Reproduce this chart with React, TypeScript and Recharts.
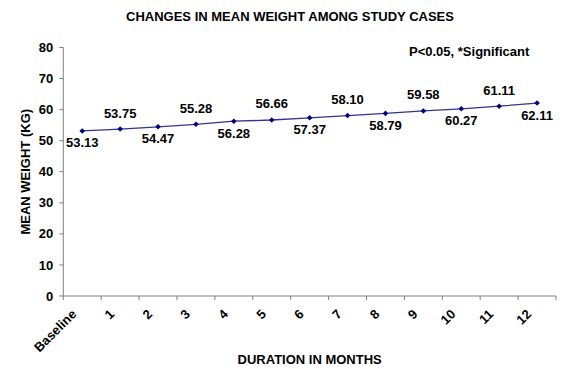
import { LineChart, Line, XAxis, YAxis, LabelList, Label } from 'recharts';

const months = ['Baseline', '1', '2', '3', '4', '5', '6', '7', '8', '9', '10', '11', '12'];
const meanWeight = [53.13, 53.75, 54.47, 55.28, 56.28, 56.66, 57.37, 58.1, 58.79, 59.58, 60.27, 61.11, 62.11];
const yTicks = [0, 10, 20, 30, 40, 50, 60, 70, 80];

const FONT = '"Liberation Sans", Arial, sans-serif';
const NAVY = '#000080';

// each month sits in the middle of its band, ticks go on the band edges
const data = months.map((m, i) => ({ pos: i + 0.5, month: m, weight: meanWeight[i] }));
const edgeTicks = months.map((_, i) => i).concat(months.length);
const midTicks = months.map((_, i) => i + 0.5);
const xTicks = [...edgeTicks, ...midTicks].sort((a, b) => a - b);

function MonthTick(props: any) {
  const { x, y, payload } = props;
  const v = payload.value;
  if (Number.isInteger(v)) {
    return <line x1={x} y1={y} x2={x} y2={y + 4} stroke="#808080" strokeWidth={1} />;
  }
  const label = months[Math.floor(v)];
  const tx = x - 5;
  const ty = y + 19;
  return (
    <text
      x={tx}
      y={ty}
      transform={`rotate(-45, ${tx}, ${ty})`}
      textAnchor="end"
      fontFamily={FONT}
      fontWeight="bold"
      fontSize={13}
      fill="#000"
    >
      {label}
    </text>
  );
}

function Diamond(props: any) {
  const { cx, cy } = props;
  if (cx == null || cy == null) return null;
  const r = 2.8;
  return <path d={`M${cx},${cy - r}L${cx + r},${cy}L${cx},${cy + r}L${cx - r},${cy}Z`} fill={NAVY} />;
}

function ValueLabel(props: any) {
  const { x, y, value, index } = props;
  // alternate the labels below / above the line
  const below = index % 2 === 0;
  return (
    <text
      x={x}
      y={below ? y + 12 : y - 16}
      textAnchor="middle"
      dominantBaseline="central"
      fontFamily={FONT}
      fontWeight="bold"
      fontSize={13}
      fill="#000"
    >
      {Number(value).toFixed(2)}
    </text>
  );
}

export default function App() {
  return (
    <div style={{ position: 'absolute', left: 0, top: 0, width: 572, height: 369, background: '#fff' }}>
      <div
        style={{
          position: 'absolute', left: 0, top: 9, width: 580, textAlign: 'center',
          fontFamily: FONT, fontWeight: 'bold', fontSize: 13, color: '#000',
        }}
      >
        CHANGES IN MEAN WEIGHT AMONG STUDY CASES
      </div>
      <div
        style={{
          position: 'absolute', left: 409, top: 44, fontFamily: FONT, fontWeight: 'bold',
          fontSize: 13, color: '#000', whiteSpace: 'nowrap',
        }}
      >
        P&lt;0.05, *Significant
      </div>
      <LineChart
        width={572}
        height={369}
        data={data}
        margin={{ top: 47.5, right: 16, bottom: 0, left: 0 }}
        style={{ position: 'absolute', left: 0, top: 0 }}
      >
        <XAxis
          dataKey="pos"
          type="number"
          domain={[0, months.length]}
          ticks={xTicks}
          interval={0}
          tickLine={false}
          tickSize={0}
          tickMargin={0}
          tick={<MonthTick />}
          height={73}
          stroke="#808080"
        >
          <Label
            value="DURATION IN MONTHS"
            position="insideBottom"
            offset={5}
            fill="#000"
            fontFamily={FONT}
            fontWeight="bold"
            fontSize={13}
          />
        </XAxis>
        <YAxis
          domain={[0, 80]}
          ticks={yTicks}
          interval={0}
          width={63.3}
          tickSize={4}
          tickMargin={6}
          stroke="#808080"
          tick={{ fill: '#000', fontFamily: FONT, fontWeight: 'bold', fontSize: 13 }}
        >
          <Label
            value="MEAN WEIGHT (KG)"
            angle={-90}
            position="center"
            dx={-6}
            fill="#000"
            fontFamily={FONT}
            fontWeight="bold"
            fontSize={13}
          />
        </YAxis>
        <Line
          type="linear"
          dataKey="weight"
          stroke="#33338f"
          strokeWidth={1.3}
          dot={<Diamond />}
          activeDot={false}
          isAnimationActive={false}
        >
          <LabelList dataKey="weight" content={<ValueLabel />} />
        </Line>
      </LineChart>
    </div>
  );
}
